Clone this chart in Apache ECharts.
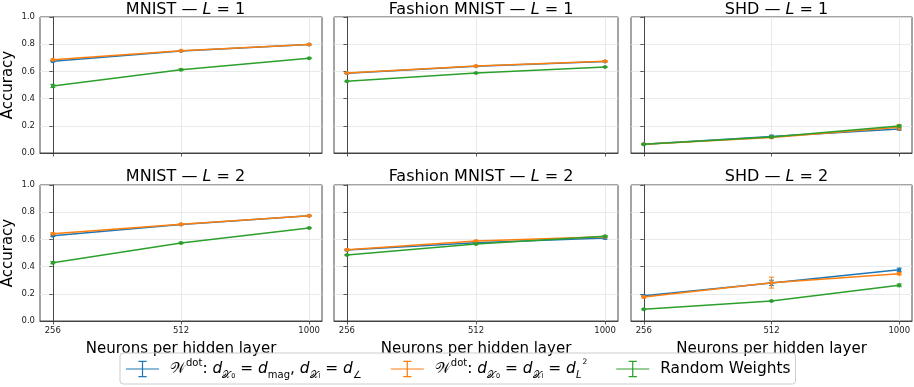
<!DOCTYPE html>
<html>
<head>
<meta charset="utf-8">
<script src="https://cdn.jsdelivr.net/npm/echarts@6/dist/echarts.min.js"></script>
<style>html,body{margin:0;padding:0;background:#fff}#c{width:914px;height:387px}</style>
</head>
<body>
<div id="c"></div>
<script>
// ---- data ----
const categories = ['256', '512', '1000'];
const panelDatasets = ['MNIST', 'Fashion MNIST', 'SHD', 'MNIST', 'Fashion MNIST', 'SHD'];
const panelLayers = [1, 1, 1, 2, 2, 2];
const yTicks = [0, 0.2, 0.4, 0.6, 0.8, 1.0];
const seriesNames = ['magAngle', 'l2', 'random'];

// mean accuracy per panel (MNIST L1, FMNIST L1, SHD L1, MNIST L2, FMNIST L2, SHD L2)
const accMagAngle = [
  [0.675, 0.750, 0.797],
  [0.586, 0.638, 0.672],
  [0.064, 0.121, 0.176],
  [0.627, 0.710, 0.774],
  [0.522, 0.576, 0.610],
  [0.186, 0.280, 0.377]
];
const accL2 = [
  [0.685, 0.752, 0.798],
  [0.588, 0.640, 0.675],
  [0.064, 0.114, 0.190],
  [0.642, 0.711, 0.774],
  [0.524, 0.588, 0.620],
  [0.176, 0.282, 0.348]
];
const accRandom = [
  [0.493, 0.612, 0.697],
  [0.527, 0.588, 0.632],
  [0.064, 0.118, 0.198],
  [0.429, 0.574, 0.684],
  [0.485, 0.566, 0.623],
  [0.086, 0.147, 0.262]
];
// error bar half-widths
const errMagAngle = [
  [0.005, 0.003, 0.003],
  [0.003, 0.003, 0.003],
  [0.003, 0.010, 0.008],
  [0.006, 0.004, 0.003],
  [0.005, 0.005, 0.008],
  [0.006, 0.020, 0.012]
];
const errL2 = [
  [0.005, 0.003, 0.003],
  [0.003, 0.003, 0.004],
  [0.003, 0.006, 0.020],
  [0.006, 0.004, 0.003],
  [0.005, 0.005, 0.005],
  [0.008, 0.040, 0.008]
];
const errRandom = [
  [0.012, 0.006, 0.004],
  [0.003, 0.003, 0.003],
  [0.003, 0.005, 0.006],
  [0.008, 0.005, 0.004],
  [0.004, 0.004, 0.005],
  [0.004, 0.004, 0.010]
];

// ---- layout ----
const colors = ['#1f77b4', '#ff7f0e', '#2ca02c'];
const colLeft = [39, 334, 631];
const colWidth = [283, 284, 281];
const rowTop = [17, 185];
const rowHeight = 136;
const FONT = 'DejaVu Sans';

const grids = [], xAxes = [], yAxes = [], series = [], titles = [];
const means = [accMagAngle, accL2, accRandom];
const errs = [errMagAngle, errL2, errRandom];

for (let p = 0; p < 6; p++) {
  const r = Math.floor(p / 3), c = p % 3;
  grids.push({
    left: colLeft[c], top: rowTop[r], width: colWidth[c], height: rowHeight,
    show: true, borderColor: '#333', borderWidth: 0.9, backgroundColor: 'transparent', containLabel: false
  });
  titles.push({
    text: '{n|' + panelDatasets[p] + ' — }{i|L}{n| = ' + panelLayers[p] + '}',
    left: colLeft[c] + colWidth[c] / 2, textAlign: 'center',
    top: r === 0 ? -3 : 164,
    textStyle: {
      fontWeight: 'normal',
      rich: {
        n: { fontFamily: FONT, fontSize: 16, fontWeight: 'normal', color: '#000' },
        i: { fontFamily: FONT, fontSize: 16, fontWeight: 'normal', fontStyle: 'italic', color: '#000' }
      }
    }
  });
  xAxes.push({
    type: 'value', gridIndex: p, min: -0.1, max: 2.1,
    name: r === 1 ? 'Neurons per hidden layer' : '',
    nameLocation: 'middle', nameGap: 21,
    nameTextStyle: { fontFamily: FONT, fontSize: 15, color: '#000' },
    axisLine: { show: true, lineStyle: { color: '#333', width: 0.9 } },
    axisTick: { show: true, length: 3.5, lineStyle: { color: '#333', width: 0.8 }, customValues: [0, 1, 2] },
    axisLabel: {
      show: r === 1, fontFamily: FONT, fontSize: 8.5, color: '#222', margin: 5,
      customValues: [0, 1, 2],
      formatter: v => categories[Math.round(v)]
    },
    splitLine: { show: true, lineStyle: { color: '#e4e4e4', width: 0.8 } }
  });
  yAxes.push({
    type: 'value', gridIndex: p, min: 0, max: 1, interval: 0.2,
    name: c === 0 ? 'Accuracy' : '',
    nameLocation: 'middle', nameGap: 24,
    nameTextStyle: { fontFamily: FONT, fontSize: 15, color: '#000' },
    axisLine: { show: true, lineStyle: { color: '#333', width: 0.9 } },
    axisTick: { show: true, length: 3.5, lineStyle: { color: '#333', width: 0.8 } },
    axisLabel: { show: c === 0, fontFamily: FONT, fontSize: 8.5, color: '#222', margin: 5,
      formatter: v => v.toFixed(1) },
    splitLine: { show: true, lineStyle: { color: '#e4e4e4', width: 0.8 } }
  });
  for (let s = 0; s < 3; s++) {
    const m = means[s][p], e = errs[s][p];
    series.push({
      name: seriesNames[s], type: 'line', xAxisIndex: p, yAxisIndex: p,
      data: m.map((v, i) => [i, v]),
      symbol: 'circle', symbolSize: 4, showSymbol: true,
      lineStyle: { color: colors[s], width: 1.5 },
      itemStyle: { color: colors[s] },
      z: 2 + s, animation: false
    });
    series.push({
      name: seriesNames[s], type: 'custom', xAxisIndex: p, yAxisIndex: p,
      data: m.map((v, i) => [i, v - e[i], v + e[i]]),
      encode: { x: 0, y: [1, 2] },
      z: 2 + s, animation: false,
      renderItem: (params, api) => {
        const x = api.value(0);
        const hi = api.coord([x, api.value(2)]);
        const lo = api.coord([x, api.value(1)]);
        const st = { stroke: colors[s], lineWidth: 1 };
        return { type: 'group', children: [
          { type: 'line', shape: { x1: hi[0], y1: hi[1], x2: lo[0], y2: lo[1] }, style: st },
          { type: 'line', shape: { x1: hi[0] - 2.5, y1: hi[1], x2: hi[0] + 2.5, y2: hi[1] }, style: st },
          { type: 'line', shape: { x1: lo[0] - 2.5, y1: lo[1], x2: lo[0] + 2.5, y2: lo[1] }, style: st }
        ] };
      }
    });
  }
}

const legendText = {
  magAngle: '{sp|}{w|𝒲}{sup|dot}{n|: }{i|d}{sub|𝒳}{ss|0}{n| = }{i|d}{sub|mag}{n|, }{i|d}{sub|𝒳}{ss|l}{n| = }{i|d}{sub|∠}',
  l2: '{sp|}{w|𝒲}{sup|dot}{n|: }{i|d}{sub|𝒳}{ss|0}{n| = }{i|d}{sub|𝒳}{ss|l}{n| = }{i|d}{subi|L}{sup2|2}',
  random: '{sp|}{n|Random Weights}'
};
const errIcon = 'path://M0,9.25h40v1.5h-40z M19.25,0h1.5v20h-1.5z M15,0h10v1.4h-10z M15,18.6h10v1.4h-10z';

const option = {
  backgroundColor: '#fff',
  animation: false,
  title: titles,
  grid: grids, xAxis: xAxes, yAxis: yAxes, series: series,
  legend: {
    data: seriesNames.map(n => ({ name: n, icon: errIcon })),
    left: 120, top: 353,
    itemWidth: 33, itemHeight: 18, itemGap: 29,
    padding: [5, 5, 4, 6],
    borderColor: '#ccc', borderWidth: 1, borderRadius: 3,
    formatter: n => legendText[n],
    textStyle: {
      fontFamily: FONT, fontSize: 15.6, color: '#000',
      rich: {
        sp: { width: 6 },
        n: { fontFamily: FONT, fontSize: 15.4, lineHeight: 22, verticalAlign: 'middle' },
        w: { fontFamily: FONT, fontSize: 15.4, lineHeight: 22, verticalAlign: 'middle' },
        i: { fontFamily: FONT, fontSize: 15.4, fontStyle: 'italic', lineHeight: 22, verticalAlign: 'middle' },
        sup: { fontFamily: FONT, fontSize: 10, lineHeight: 10, verticalAlign: 'top' },
        sup2: { fontFamily: FONT, fontSize: 7.5, lineHeight: 10, verticalAlign: 'top', padding: [0, 0, 4, 1] },
        sub: { fontFamily: FONT, fontSize: 10, lineHeight: 12, verticalAlign: 'bottom' },
        subi: { fontFamily: FONT, fontSize: 10, fontStyle: 'italic', lineHeight: 12, verticalAlign: 'bottom' },
        ss: { fontFamily: FONT, fontSize: 6.5, lineHeight: 8, verticalAlign: 'bottom' }
      }
    }
  }
};
echarts.init(document.getElementById('c'), null, { renderer: 'canvas' }).setOption(option);
</script>
</body>
</html>
